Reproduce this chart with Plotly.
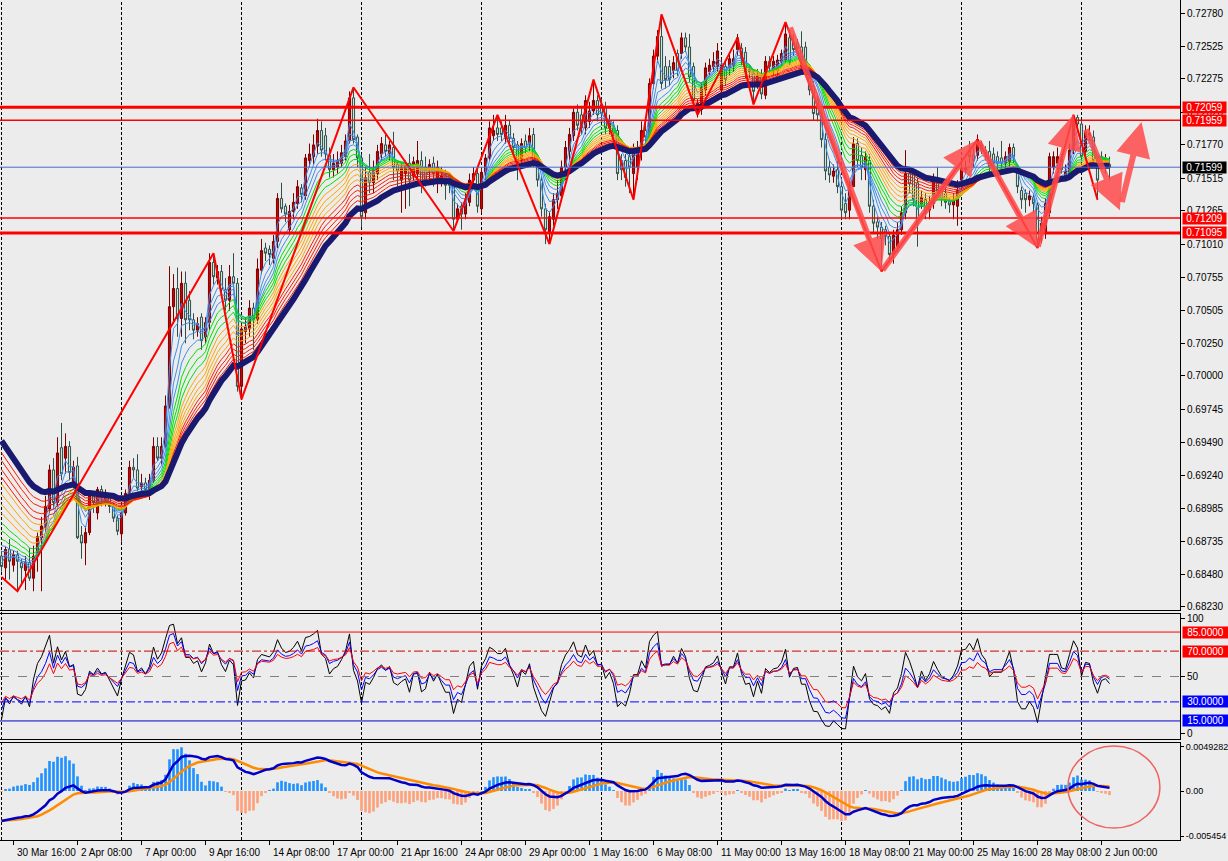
import plotly.graph_objects as go

# ---------------- price data (H4 bars) ----------------
opens = [
 .6862,.6853,.6867,.6855,.6863,.6857,.6851,.6857,.6845,.6862,
 .6876,.6884,.6898,.6928,.6903,.6945,.6937,.6946,.6918,.6931,
 .6878,.6872,.6880,.6908,.6895,.6913,.6904,.6908,.6900,.6891,
 .6879,.6895,.6910,.6930,.6928,.6915,.6918,.6912,.6920,.6946,
 .6937,.6946,.6977,.7053,.7067,.7044,.7071,.7058,.7043,.7035,
 .7045,.7030,.7041,.7087,.7075,.7080,.7066,.7058,.7076,.7071,
 .6992,.7034,.7036,.7052,.7043,.7081,.7098,.7097,.7090,.7103,
 .7136,.7130,.7112,.7126,.7132,.7144,.7138,.7165,.7168,.7176,
 .7188,.7184,.7169,.7158,.7160,.7163,.7168,.7180,.7213,.7183,
 .7167,.7125,.7156,.7148,.7155,.7170,.7177,.7170,.7175,.7162,
 .7150,.7155,.7163,.7153,.7155,.7165,.7160,.7158,.7163,.7148,
 .7148,.7153,.7153,.7146,.7120,.7130,.7124,.7133,.7150,.7155,
 .7128,.7156,.7167,.7184,.7190,.7190,.7182,.7192,.7182,.7177,
 .7165,.7180,.7178,.7185,.7165,.7150,.7128,.7110,.7120,.7135,
 .7138,.7160,.7172,.7184,.7202,.7200,.7190,.7195,.7203,.7211,
 .7208,.7206,.7190,.7190,.7188,.7165,.7165,.7168,.7155,.7160,
 .7175,.7188,.7181,.7224,.7245,.7260,.7237,.7237,.7234,.7247,
 .7247,.7259,.7252,.7237,.7201,.7204,.7219,.7233,.7237,.7237,
 .7219,.7237,.7236,.7238,.7250,.7251,.7248,.7235,.7232,.7224,
 .7230,.7215,.7241,.7233,.7234,.7241,.7242,.7259,.7256,.7255,
 .7252,.7252,.7229,.7222,.7211,.7201,.7181,.7160,.7153,.7158,
 .7145,.7132,.7127,.7145,.7178,.7169,.7158,.7165,.7130,.7118,
 .7114,.7112,.7107,.7093,.7099,.7112,.7125,.7155,.7155,.7148,
 .7132,.7135,.7127,.7132,.7150,.7142,.7140,.7134,.7131,.7130,
 .7150,.7158,.7173,.7169,.7169,.7177,.7173,.7172,.7170,.7168,
 .7167,.7163,.7164,.7175,.7158,.7142,.7140,.7135,.7137,.7131,
 .7108,.7109,.7125,.7160,.7163,.7167,.7153,.7155,.7173,.7198,
 .7193,.7172,.7184,.7183,.7165,.7168,.7160,.7162]
highs = [
 .6866,.6869,.6875,.6866,.6866,.6860,.6862,.6868,.6870,.6880,
 .6892,.6908,.6932,.6937,.6953,.6964,.6956,.6950,.6935,.6938,
 .6885,.6885,.6911,.6910,.6915,.6916,.6913,.6910,.6903,.6893,
 .6896,.6913,.6935,.6937,.6940,.6925,.6922,.6925,.6953,.6953,
 .6953,.6985,.7084,.7078,.7083,.7080,.7080,.7065,.7048,.7045,
 .7048,.7045,.7094,.7094,.7085,.7085,.7075,.7085,.7094,.7075,
 .7040,.7045,.7058,.7056,.7090,.7105,.7102,.7100,.7108,.7140,
 .7148,.7132,.7131,.7140,.7150,.7147,.7170,.7178,.7185,.7197,
 .7195,.7190,.7175,.7170,.7172,.7177,.7185,.7218,.7221,.7185,
 .7170,.7160,.7170,.7165,.7177,.7183,.7185,.7180,.7187,.7165,
 .7163,.7165,.7170,.7168,.7180,.7172,.7168,.7166,.7168,.7165,
 .7160,.7158,.7155,.7150,.7132,.7133,.7140,.7155,.7160,.7160,
 .7160,.7170,.7195,.7200,.7200,.7195,.7200,.7196,.7186,.7180,
 .7182,.7185,.7190,.7190,.7168,.7153,.7132,.7126,.7140,.7150,
 .7165,.7180,.7190,.7205,.7208,.7205,.7215,.7210,.7227,.7215,
 .7212,.7210,.7200,.7195,.7192,.7170,.7170,.7173,.7178,.7180,
 .7195,.7195,.7228,.7250,.7265,.7277,.7245,.7242,.7245,.7250,
 .7263,.7263,.7262,.7240,.7212,.7225,.7240,.7243,.7248,.7255,
 .7243,.7242,.7248,.7250,.7262,.7255,.7252,.7238,.7235,.7235,
 .7235,.7245,.7245,.7245,.7246,.7250,.7271,.7265,.7262,.7258,
 .7264,.7256,.7235,.7226,.7215,.7205,.7186,.7165,.7162,.7165,
 .7150,.7140,.7150,.7183,.7182,.7175,.7172,.7170,.7135,.7122,
 .7118,.7115,.7110,.7112,.7118,.7130,.7173,.7160,.7158,.7152,
 .7142,.7140,.7138,.7155,.7160,.7145,.7145,.7136,.7140,.7150,
 .7163,.7165,.7180,.7175,.7185,.7180,.7176,.7180,.7175,.7172,
 .7180,.7172,.7178,.7178,.7162,.7145,.7143,.7142,.7140,.7133,
 .7122,.7136,.7171,.7172,.7175,.7170,.7162,.7178,.7200,.7200,
 .7196,.7192,.7192,.7188,.7168,.7172,.7170,.7168]
lows = [
 .6850,.6844,.6844,.6850,.6835,.6839,.6836,.6843,.6835,.6850,
 .6835,.6880,.6895,.6898,.6900,.6920,.6925,.6920,.6915,.6875,
 .6860,.6855,.6878,.6895,.6890,.6900,.6900,.6895,.6888,.6878,
 .6873,.6893,.6908,.6922,.6912,.6910,.6908,.6905,.6918,.6935,
 .6932,.6945,.6975,.7040,.7030,.7030,.7025,.7035,.7028,.7030,
 .7020,.7025,.7035,.7070,.7070,.7060,.7050,.7050,.7068,.6988,
 .6982,.7025,.7030,.7020,.7040,.7078,.7088,.7085,.7086,.7098,
 .7125,.7118,.7108,.7120,.7128,.7133,.7135,.7160,.7162,.7170,
 .7168,.7165,.7152,.7152,.7155,.7160,.7165,.7178,.7178,.7160,
 .7114,.7120,.7140,.7140,.7150,.7165,.7168,.7165,.7150,.7145,
 .7125,.7128,.7130,.7150,.7150,.7140,.7145,.7150,.7145,.7140,
 .7145,.7135,.7140,.7111,.7118,.7112,.7120,.7130,.7145,.7125,
 .7125,.7150,.7165,.7180,.7180,.7180,.7178,.7178,.7170,.7150,
 .7160,.7170,.7172,.7160,.7145,.7122,.7101,.7103,.7115,.7128,
 .7135,.7150,.7165,.7180,.7188,.7185,.7185,.7190,.7200,.7195,
 .7195,.7185,.7185,.7180,.7150,.7150,.7145,.7140,.7135,.7150,
 .7165,.7178,.7178,.7220,.7240,.7220,.7220,.7222,.7228,.7230,
 .7243,.7248,.7225,.7205,.7198,.7200,.7215,.7230,.7233,.7233,
 .7215,.7222,.7230,.7233,.7245,.7238,.7228,.7228,.7208,.7220,
 .7212,.7212,.7232,.7230,.7230,.7237,.7240,.7238,.7245,.7246,
 .7233,.7230,.7215,.7196,.7195,.7175,.7150,.7148,.7148,.7140,
 .7120,.7120,.7120,.7145,.7160,.7150,.7150,.7125,.7110,.7105,
 .7080,.7100,.7087,.7086,.7095,.7108,.7120,.7140,.7130,.7099,
 .7128,.7120,.7120,.7128,.7138,.7130,.7128,.7125,.7120,.7115,
 .7145,.7155,.7163,.7160,.7165,.7170,.7165,.7155,.7158,.7158,
 .7158,.7158,.7160,.7163,.7140,.7128,.7125,.7130,.7125,.7098,
 .7102,.7105,.7122,.7155,.7158,.7155,.7150,.7150,.7170,.7188,
 .7165,.7168,.7180,.7160,.7135,.7158,.7155,.7150]
closes = [
 .6854,.6867,.6858,.6863,.6858,.6853,.6857,.6845,.6862,.6877,
 .6885,.6900,.6928,.6903,.6941,.6925,.6946,.6926,.6930,.6876,
 .6872,.6880,.6908,.6903,.6913,.6906,.6908,.6900,.6891,.6881,
 .6895,.6910,.6930,.6928,.6914,.6918,.6913,.6920,.6946,.6937,
 .6946,.6977,.7053,.7067,.7044,.7071,.7043,.7043,.7035,.7040,
 .7027,.7041,.7087,.7076,.7080,.7066,.7058,.7076,.7071,.6992,
 .7036,.7038,.7052,.7043,.7082,.7096,.7094,.7093,.7103,.7136,
 .7128,.7124,.7126,.7133,.7145,.7139,.7167,.7170,.7177,.7188,
 .7173,.7170,.7158,.7163,.7165,.7171,.7180,.7213,.7181,.7167,
 .7122,.7152,.7148,.7158,.7172,.7178,.7172,.7177,.7160,.7157,
 .7160,.7162,.7150,.7164,.7165,.7148,.7150,.7162,.7155,.7160,
 .7153,.7146,.7146,.7120,.7128,.7124,.7135,.7150,.7155,.7130,
 .7156,.7167,.7190,.7188,.7185,.7185,.7192,.7182,.7175,.7165,
 .7178,.7175,.7184,.7165,.7150,.7128,.7112,.7122,.7135,.7140,
 .7160,.7175,.7185,.7202,.7192,.7190,.7211,.7203,.7211,.7200,
 .7201,.7190,.7195,.7186,.7155,.7158,.7152,.7160,.7175,.7175,
 .7188,.7183,.7224,.7245,.7260,.7224,.7227,.7227,.7240,.7234,
 .7259,.7252,.7229,.7211,.7209,.7221,.7236,.7238,.7241,.7249,
 .7238,.7227,.7243,.7243,.7259,.7243,.7232,.7233,.7218,.7230,
 .7216,.7241,.7237,.7241,.7242,.7247,.7262,.7241,.7250,.7251,
 .7237,.7237,.7219,.7201,.7200,.7181,.7157,.7154,.7157,.7145,
 .7127,.7125,.7145,.7178,.7165,.7160,.7168,.7130,.7117,.7114,
 .7105,.7107,.7093,.7108,.7112,.7125,.7155,.7147,.7135,.7117,
 .7137,.7125,.7133,.7150,.7142,.7135,.7133,.7131,.7135,.7142,
 .7159,.7160,.7168,.7165,.7181,.7173,.7170,.7160,.7163,.7163,
 .7163,.7168,.7175,.7168,.7145,.7135,.7135,.7138,.7132,.7104,
 .7117,.7132,.7168,.7168,.7168,.7158,.7157,.7173,.7198,.7193,
 .7168,.7187,.7186,.7165,.7150,.7163,.7165,.71599]

# time axis labels (bar index of each label, text)
label_bars = [3, 19, 35, 51, 67, 83, 99, 115, 131, 147, 163, 179, 195, 211, 227, 243, 259, 275]
label_text = ["30 Mar 16:00", "2 Apr 08:00", "7 Apr 00:00", "9 Apr 16:00", "14 Apr 08:00",
              "17 Apr 00:00", "21 Apr 16:00", "24 Apr 08:00", "29 Apr 00:00", "1 May 16:00",
              "6 May 08:00", "11 May 00:00", "13 May 16:00", "18 May 08:00", "21 May 00:00",
              "25 May 16:00", "28 May 08:00", "2 Jun 00:00"]
grid_bars = [0, 30, 60, 90, 120, 150, 180, 210, 240, 270]

price_ticks = [0.72780, 0.72525, 0.72275, 0.72020, 0.71770, 0.71515, 0.71265, 0.71010, 0.70755,
               0.70505, 0.70250, 0.70000, 0.69745, 0.69490, 0.69240, 0.68985, 0.68735, 0.68480, 0.68230]

# moving-average fan: periods, colours, value at the left edge (read)
fan_periods = [3, 5, 7, 9, 11, 13, 15, 17, 19, 21, 23, 25, 27, 29, 31]
fan_colors = ["#3D8EEA"] * 4 + ["#00E000"] * 3 + ["#FFA500"] * 4 + ["#FF1A00"] * 4
fan_start = [.6859, .6864, .6869, .6874, .6879, .6886, .6892, .6900, .6907, .6915, .6923,
             .6928, .6934, .6941, .6947]
slow_period, slow_start = 34, .6956

# zigzag swing points (bar, price)
zz_bars = [0, 4, 53, 60, 88, 113, 124, 137, 148, 158, 165, 174, 184, 188, 196, 220, 244, 259, 268, 274]
zz_price = [.6846, .6835, .7094, .6982, .7221, .7111, .7200, .7101, .7227, .7135, .7277, .7200,
            .7259, .7208, .7271, .7080, .7181, .7098, .7200, .7135]

# hand-drawn arrows (tail bar, tail price, head bar, head price)
arrow_tail_bar = [197, 220, 244, 259, 271, 280]
arrow_tail_price = [.7268, .7080, .7181, .7098, .7190, .7132]
arrow_head_bar = [220, 244, 259, 268, 279.6, 285]
arrow_head_price = [.7080, .7181, .7098, .7200, .7127, .71946]

# horizontal levels
level_prices = [0.72059, 0.71959, 0.71209, 0.71095]
level_widths = [3, 1.5, 1.5, 3]
last_price = 0.71599

# oscillator (RSI) settings and left-edge readings
rsi_periods = [6, 10, 15]
rsi_colors = ["#000000", "#0000FF", "#FF0000"]
rsi_start = [16, 24, 29]
osc_levels = [85, 70, 50, 30, 15]

# MACD settings and left-edge readings
macd_fast_start, macd_slow_start, macd_signal_start = .6890, .6923, -0.0033
hist_scale = 3.0

# ---------------- indicator helpers ----------------
def ema(values, period, seed):
    a = 2.0 / (period + 1)
    out, prev = [], seed
    for v in values:
        prev = prev + a * (v - prev)
        out.append(prev)
    return out

def rsi(values, period, start, move=0.0012):
    ag = move * start / 100.0
    al = move * (1 - start / 100.0)
    prev = values[0]
    out = []
    for v in values:
        d = v - prev
        ag = (ag * (period - 1) + max(d, 0)) / period
        al = (al * (period - 1) + max(-d, 0)) / period
        out.append(100 * ag / (ag + al))
        prev = v
    return out

n = len(closes)
xs = list(range(n))

fig = go.Figure()

# MA fan
for p, c, s in zip(fan_periods, fan_colors, fan_start):
    fig.add_trace(go.Scatter(x=xs, y=ema(closes, p, s), mode="lines",
                             line=dict(color=c, width=1), xaxis="x", yaxis="y", hoverinfo="skip"))
fig.add_trace(go.Scatter(x=xs, y=ema(closes, slow_period, slow_start), mode="lines",
                         line=dict(color="#191970", width=6), xaxis="x", yaxis="y", hoverinfo="skip"))

# candles
fig.add_trace(go.Candlestick(x=xs, open=opens, high=highs, low=lows, close=closes,
                             increasing=dict(fillcolor="#CC0000", line=dict(color="#7A0000", width=1)),
                             decreasing=dict(fillcolor="#CFE6CF", line=dict(color="#2F4F4F", width=1)),
                             whiskerwidth=0, xaxis="x", yaxis="y", hoverinfo="skip"))

# zigzag
fig.add_trace(go.Scatter(x=zz_bars, y=zz_price, mode="lines", line=dict(color="#FF0000", width=2),
                         xaxis="x", yaxis="y", hoverinfo="skip"))

# oscillator
for p, c, s in zip(rsi_periods, rsi_colors, rsi_start):
    fig.add_trace(go.Scatter(x=xs, y=rsi(closes, p, s), mode="lines", line=dict(color=c, width=1),
                             xaxis="x2", yaxis="y2", hoverinfo="skip"))

# MACD
fast = ema(closes, 12, macd_fast_start)
slow = ema(closes, 26, macd_slow_start)
macd = [f - s for f, s in zip(fast, slow)]
signal = ema(macd, 9, macd_signal_start)
hist = [hist_scale * (m - s) for m, s in zip(macd, signal)]
fig.add_trace(go.Bar(x=xs, y=hist, marker=dict(color=["#1E90FF" if h >= 0 else "#FFA07A" for h in hist],
                                                line=dict(width=0)),
                     width=0.65, xaxis="x3", yaxis="y3", hoverinfo="skip"))
fig.add_trace(go.Scatter(x=xs, y=signal, mode="lines", line=dict(color="#FF8C00", width=2.5),
                         xaxis="x3", yaxis="y3", hoverinfo="skip"))
fig.add_trace(go.Scatter(x=xs, y=macd, mode="lines", line=dict(color="#0000C8", width=2.5),
                         xaxis="x3", yaxis="y3", hoverinfo="skip"))

# ---------------- layout ----------------
PH = 840.0
def py(px):
    return 1 - px / PH

xr = [-0.375, 294.625]
FONT = "Liberation Sans, Arial, sans-serif"
common_x = dict(range=xr, autorange=False, showgrid=False, zeroline=False, showticklabels=False,
                fixedrange=True, automargin=False)
ax_y = dict(side="right", showgrid=False, zeroline=False, ticks="outside", ticklen=4, tickcolor="black",
            showline=True, linecolor="black", linewidth=1, automargin=False, autorange=False,
            tickfont=dict(family=FONT, size=10, color="black"))

shapes = []
for g in grid_bars:
    shapes.append(dict(type="line", xref="x", yref="paper", x0=g, x1=g, y0=0, y1=1, layer="below",
                       line=dict(color="black", width=1, dash="3px,2px")))
for lp, lw in zip(level_prices, level_widths):
    shapes.append(dict(type="line", xref="paper", yref="y", x0=0, x1=1, y0=lp, y1=lp,
                       line=dict(color="#FF0000", width=lw)))
shapes.append(dict(type="line", xref="paper", yref="y", x0=0, x1=1, y0=last_price, y1=last_price,
                   line=dict(color="#4A6BCF", width=1)))
osc_styles = [("#FF0000", "solid"), ("#CC0000", "dashdot"), ("#808080", "dash"),
              ("#0000FF", "dashdot"), ("#0000CC", "solid")]
for lv, (c, d) in zip(osc_levels, osc_styles):
    shapes.append(dict(type="line", xref="paper", yref="y2", x0=0, x1=1, y0=lv, y1=lv,
                       line=dict(color=c, width=1, dash=d)))
# panel separators
for ypx in [610.5, 613.5, 739.5, 742.5]:
    shapes.append(dict(type="line", xref="paper", yref="paper", x0=0, x1=1, y0=py(ypx), y1=py(ypx),
                       line=dict(color="black", width=1)))
# circle in MACD window
shapes.append(dict(type="circle", xref="x3", yref="y3", x0=266.6, x1=289.6, y0=-0.00412, y1=0.0050,
                   line=dict(color="#F06464", width=1.5)))

annotations = []
for b, t in zip(label_bars, label_text):
    annotations.append(dict(x=b, y=py(852), xref="x3", yref="paper", text=t, showarrow=False,
                            xanchor="left", yanchor="middle", xshift=1,
                            font=dict(family=FONT, size=10, color="black")))
xbox = 1182 / 1180.0
def box(yv, yref, txt, bg, w=43):
    annotations.append(dict(x=xbox, y=yv, xref="paper", yref=yref, text=txt, showarrow=False,
                            xanchor="left", yanchor="middle", bgcolor=bg, width=w, height=11,
                            borderpad=0, font=dict(family=FONT, size=10, color="white")))
for lp in level_prices:
    box(lp, "y", "%.5f" % lp, "#FF0000")
box(last_price, "y", "%.5f" % last_price, "#000000")
box(85, "y2", "85.0000", "#FF0000", 45)
box(70, "y2", "70.0000", "#FF0000", 45)
box(30, "y2", "30.0000", "#0000FF", 45)
box(15, "y2", "15.0000", "#0000FF", 45)

for tb, tp, hb, hp in zip(arrow_tail_bar, arrow_tail_price, arrow_head_bar, arrow_head_price):
    annotations.append(dict(x=hb, y=hp, ax=tb, ay=tp, xref="x", yref="y", axref="x", ayref="y",
                            text="", showarrow=True, arrowhead=2, arrowsize=1.15, arrowwidth=6,
                            arrowcolor="rgba(255,75,75,0.85)", standoff=0, startstandoff=0))

fig.update_layout(
    width=1228, height=861, margin=dict(l=0, r=48, t=0, b=21, autoexpand=False),
    paper_bgcolor="#ECECEC", plot_bgcolor="#ECECEC", showlegend=False,
    boxgap=0.25, bargap=0.3,
    font=dict(family=FONT, size=10, color="black"),
    xaxis=dict(common_x, anchor="y", rangeslider=dict(visible=False)),
    xaxis2=dict(common_x, anchor="y2", matches="x"),
    xaxis3=dict(common_x, anchor="y3", matches="x", tickmode="array", tickvals=label_bars,
                ticks="outside", ticklen=4, tickcolor="black", showline=True, linecolor="black"),
    yaxis=dict(ax_y, anchor="x", domain=[py(611), 1], range=[0.68199, 0.72880],
               tickmode="array", tickvals=price_ticks, ticktext=["%.5f" % v for v in price_ticks]),
    yaxis2=dict(ax_y, anchor="x2", domain=[py(740), py(613)], range=[0, 100],
                tickmode="array", tickvals=[95.3, 50, 5.5], ticktext=["100", "50", "0"]),
    yaxis3=dict(ax_y, anchor="x3", domain=[0, py(742)], range=[-0.005454, 0.005454],
                tickmode="array", tickvals=[0.0049282, 0.0, -0.005009],
                ticktext=["0.0049282", "0.00", "-0.005454"], ticklen=3,
                tickfont=dict(family=FONT, size=9, color="black")),
    shapes=shapes, annotations=annotations,
)

fig.write_html("out.html")
